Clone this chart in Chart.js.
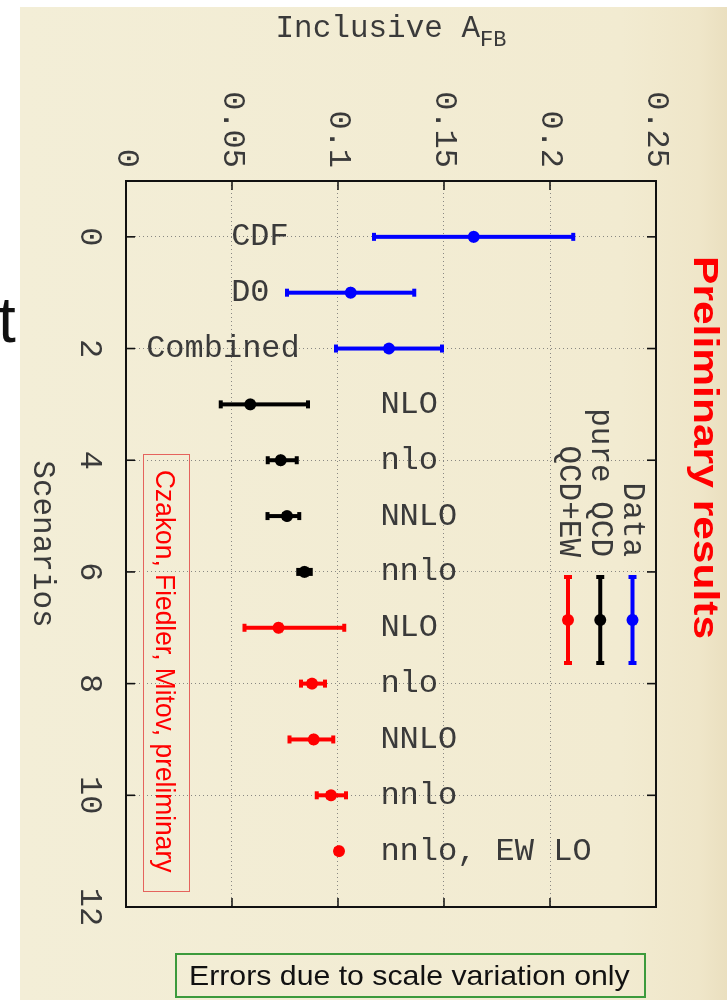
<!DOCTYPE html>
<html>
<head>
<meta charset="utf-8">
<script src="https://cdn.jsdelivr.net/npm/chart.js@4.4.1/dist/chart.umd.min.js"></script>
<style>
  html, body { margin: 0; padding: 0; background: #fff; }
  #page { position: relative; width: 727px; height: 1000px; overflow: hidden; background: #fff; }
  #paper { position: absolute; left: 20px; top: 7px; width: 707px; height: 993px;
    background: linear-gradient(90deg, #f3eed7 0%, #f2ebd1 85%, #efe6c9 96%, #eadfbf 100%); }
  #wrap { position: absolute; left: 0; top: 0; width: 1000px; height: 727px;
    transform-origin: 0 0; transform: translate(727px, 0) rotate(90deg); }
  .txt { position: absolute; white-space: nowrap; line-height: 1; transform-origin: 0 0;
    font-family: "Liberation Sans", Arial, sans-serif; }
  #prelim { left: 724px; top: 256px; font-size: 35px; font-weight: bold; color: #ff0000; }
  #authors { left: 179px; top: 470px; font-size: 28px; color: #ff0000; }
  #authorsBox { position: absolute; left: 143px; top: 454px; width: 47px; height: 438px;
    border: 1.5px solid #e5635d; box-sizing: border-box; }
  #errBox { position: absolute; left: 175px; top: 953px; width: 471px; height: 45px;
    border: 2px solid #3c9a3c; box-sizing: border-box; }
  #errTxt { left: 189px; top: 962px; font-size: 28px; color: #111; }
  #slideT { left: -2px; top: 288px; font-size: 64px; color: #111; }
</style>
</head>
<body>
<div id="page">
  <div id="paper"></div>
  <div id="slideT" class="txt">t</div>
  <div id="wrap"><canvas id="afbChart"></canvas></div>
  <div id="authorsBox"></div>
  <div id="authors" class="txt">Czakon, Fiedler, Mitov, preliminary</div>
  <div id="prelim" class="txt">Preliminary results</div>
  <div id="errBox"></div>
  <div id="errTxt" class="txt">Errors due to scale variation only</div>
</div>
<script>
// values (scenario index -> inclusive A_FB with asymmetric scale errors)
const scenarios = [0, 1, 2, 3, 4, 5, 6, 7, 8, 9, 10, 11];
const labels = ['CDF', 'D0', 'Combined', 'NLO', 'nlo', 'NNLO', 'nnlo', 'NLO', 'nlo', 'NNLO', 'nnlo', 'nnlo, EW LO'];
const afb = [0.164, 0.106, 0.124, 0.0586, 0.0730, 0.0759, 0.0842, 0.0719, 0.0877, 0.0886, 0.0967, 0.1005];
const errMinus = [0.047, 0.030, 0.025, 0.0139, 0.0061, 0.0092, 0.0030, 0.0160, 0.0052, 0.0115, 0.0067, 0];
const errPlus = [0.047, 0.030, 0.025, 0.0272, 0.0076, 0.0058, 0.0030, 0.0310, 0.0062, 0.0092, 0.0071, 0];
const groupOf = [0, 0, 0, 1, 1, 1, 1, 2, 2, 2, 2, 2];
const groupNames = ['Data', 'pure QCD', 'QCD+EW'];
const groupColors = ['#0000ff', '#000000', '#ff0000'];
const xTicks = [0, 2, 4, 6, 8, 10, 12];
const yTicks = [0, 0.05, 0.1, 0.15, 0.2, 0.25];

// where each text label starts (in A_FB units)
const labelAnchor = [0.0496, 0.0496, 0.0095, 0.12, 0.12, 0.12, 0.12, 0.12, 0.12, 0.12, 0.12, 0.12];

const MONO = '"Liberation Mono", "DejaVu Sans Mono", monospace';
const INK = '#3a3a3a';
Chart.defaults.font.family = MONO;

const groupData = groupNames.map((name, g) =>
    scenarios.map((s, i) => ({ x: s, y: afb[i], i: i })).filter(p => groupOf[p.i] === g));

function drawBar(ctx, color, a, b, at, vertical) {
    // error bar between a and b, at position `at`, with caps
    ctx.strokeStyle = color;
    ctx.lineWidth = 4;
    ctx.lineCap = 'butt';
    ctx.beginPath();
    if (vertical) {
        ctx.moveTo(at, a); ctx.lineTo(at, b);
        ctx.moveTo(at - 4, a); ctx.lineTo(at + 4, a);
        ctx.moveTo(at - 4, b); ctx.lineTo(at + 4, b);
    } else {
        ctx.moveTo(a, at); ctx.lineTo(b, at);
        ctx.moveTo(a, at - 4); ctx.lineTo(a, at + 4);
        ctx.moveTo(b, at - 4); ctx.lineTo(b, at + 4);
    }
    ctx.stroke();
}

const frame = {
    id: 'frame',
    beforeDatasetsDraw(chart) {
        const { ctx, chartArea: a, scales: { x, y } } = chart;
        ctx.save();
        ctx.strokeStyle = '#111';
        ctx.lineWidth = 2;
        ctx.strokeRect(a.left, a.top, a.right - a.left, a.bottom - a.top);
        ctx.lineWidth = 1.6;
        ctx.beginPath();
        xTicks.forEach(v => {
            const p = x.getPixelForValue(v);
            ctx.moveTo(p, a.bottom); ctx.lineTo(p, a.bottom - 9);
            ctx.moveTo(p, a.top); ctx.lineTo(p, a.top + 9);
        });
        yTicks.forEach(v => {
            const p = y.getPixelForValue(v);
            ctx.moveTo(a.left, p); ctx.lineTo(a.left + 9, p);
            ctx.moveTo(a.right, p); ctx.lineTo(a.right - 9, p);
        });
        ctx.stroke();

        // error bars
        scenarios.forEach((s, i) => {
            if (errMinus[i] === 0 && errPlus[i] === 0) return;
            drawBar(ctx, groupColors[groupOf[i]],
                y.getPixelForValue(afb[i] - errMinus[i]),
                y.getPixelForValue(afb[i] + errPlus[i]),
                x.getPixelForValue(s), true);
        });
        ctx.restore();
    }
};

const texts = {
    id: 'texts',
    afterDatasetsDraw(chart) {
        const { ctx, chartArea: a, scales: { x, y } } = chart;
        ctx.save();
        ctx.fillStyle = INK;

        // labels next to the points
        ctx.font = '32px ' + MONO;
        ctx.textAlign = 'left';
        ctx.textBaseline = 'middle';
        scenarios.forEach((s, i) => {
            ctx.save();
            ctx.translate(x.getPixelForValue(s), y.getPixelForValue(labelAnchor[i]));
            ctx.rotate(-Math.PI / 2);
            ctx.fillText(labels[i], 0, 0);
            ctx.restore();
        });

        // key
        ctx.font = '31px ' + MONO;
        ctx.textAlign = 'right';
        groupNames.forEach((name, g) => {
            const rowY = a.top + 23.5 + g * 32.3;
            ctx.fillStyle = INK;
            ctx.fillText(name, a.right - 350, rowY);
            const x0 = a.right - 330, x1 = a.right - 244;
            drawBar(ctx, groupColors[g], x0, x1, rowY, false);
            ctx.fillStyle = groupColors[g];
            ctx.beginPath();
            ctx.arc((x0 + x1) / 2, rowY, 6, 0, Math.PI * 2);
            ctx.fill();
        });

        // y axis title with subscript
        const main = 'Inclusive A', sub = 'FB';
        ctx.fillStyle = INK;
        ctx.textAlign = 'left';
        ctx.textBaseline = 'alphabetic';
        ctx.font = '31px ' + MONO;
        const w1 = ctx.measureText(main).width;
        ctx.font = '22px ' + MONO;
        const w2 = ctx.measureText(sub).width;
        ctx.translate(37, (a.top + a.bottom) / 2);
        ctx.rotate(-Math.PI / 2);
        ctx.font = '31px ' + MONO;
        ctx.fillText(main, -(w1 + w2) / 2, 0);
        ctx.font = '22px ' + MONO;
        ctx.fillText(sub, -(w1 + w2) / 2 + w1, 9);
        ctx.restore();
    }
};

const gridStyle = { drawTicks: false, color: 'rgba(110,110,110,0.8)', lineWidth: 1 };

new Chart(document.getElementById('afbChart'), {
    type: 'scatter',
    data: {
        datasets: groupNames.map((name, g) => ({
            label: name,
            data: groupData[g],
            pointRadius: 6,
            pointBorderWidth: 0,
            pointBackgroundColor: groupColors[g],
            pointBorderColor: groupColors[g]
        }))
    },
    options: {
        responsive: true,
        maintainAspectRatio: false,
        animation: false,
        layout: { padding: { top: 71, right: 93, bottom: 0, left: 0 } },
        plugins: { legend: { display: false }, tooltip: { enabled: false } },
        scales: {
            x: {
                type: 'linear', min: -1, max: 12,
                afterBuildTicks: s => { s.ticks = xTicks.map(v => ({ value: v })); },
                afterFit: s => { s.height = 126; },
                grid: gridStyle,
                border: { display: false, dash: [1, 3] },
                ticks: { padding: 17, color: INK, font: { size: 32 }, maxRotation: 0, autoSkip: false },
                title: { display: true, text: 'Scenarios', color: INK, font: { size: 31 }, padding: { top: 0, bottom: 24 } }
            },
            y: {
                type: 'linear', min: 0, max: 0.25,
                afterBuildTicks: s => { s.ticks = yTicks.map(v => ({ value: v })); },
                afterFit: s => { s.width = 181; },
                grid: gridStyle,
                border: { display: false, dash: [1, 3] },
                ticks: { padding: 13, color: INK, font: { size: 32 }, callback: v => String(+v.toFixed(2)) }
            }
        }
    },
    plugins: [frame, texts]
});

// squeeze the slide texts to the length they have in the picture
function fit(id, target, rotated) {
    const el = document.getElementById(id);
    const k = target / el.offsetWidth;
    el.style.transform = (rotated ? 'rotate(90deg) ' : '') + 'scaleX(' + k + ')';
}
fit('prelim', 383, true);
fit('authors', 402, true);
fit('errTxt', 441, false);
</script>
</body>
</html>
